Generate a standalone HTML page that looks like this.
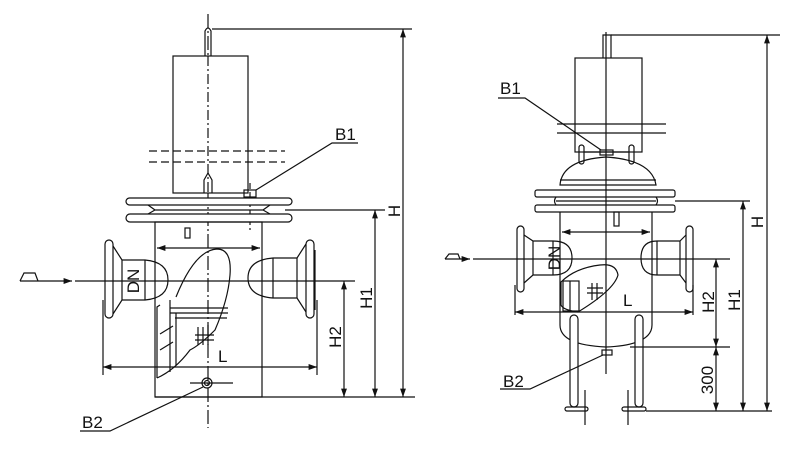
<!DOCTYPE html>
<html><head><meta charset="utf-8"><style>
html,body{margin:0;padding:0;background:#fff;}
svg{display:block;}
text{font-family:"Liberation Sans",Arial,sans-serif;fill:#111;}
</style></head><body>
<svg width="802" height="453" viewBox="0 0 802 453" xmlns="http://www.w3.org/2000/svg">
<defs>
<marker id="a" viewBox="0 0 10 10" refX="10" refY="5" markerWidth="7" markerHeight="7" orient="auto-start-reverse"><path d="M0,1.5 L10,5 L0,8.5z" fill="#111"/></marker>
</defs>
<g stroke="#111" stroke-width="1.2" fill="none">
<!-- ============ LEFT FIGURE ============ -->
<line x1="208" y1="14" x2="208" y2="428" stroke-dasharray="14,3,2,3"/>
<path d="M205,57 V31 Q208,25 211,31 V57"/>
<rect x="173" y="56" width="75" height="137" fill="#fff"/>
<line x1="208" y1="56" x2="208" y2="193" stroke-dasharray="10,3,2,3"/>
<line x1="149" y1="151" x2="285" y2="151" stroke-dasharray="8,4"/>
<line x1="149" y1="162" x2="285" y2="162" stroke-dasharray="8,4"/>
<path d="M204,193 V180 L208,173 L212,180 V193"/>
<rect x="244" y="190" width="12" height="7"/>
<line x1="250" y1="183" x2="250" y2="230" stroke-dasharray="6,3"/>
<path d="M256,190 L332,143 H358"/>
<rect x="126" y="198" width="166" height="7" rx="3.5" fill="#fff"/>
<rect x="126" y="214" width="166" height="8" rx="4" fill="#fff"/>
<path d="M148,205 L155,210 L148,214 M270,205 L263,210 L270,214 M155,210 H263"/>
<rect x="155" y="222" width="107" height="175"/>
<rect x="185" y="228" width="5" height="10"/>
<line x1="157" y1="248" x2="260" y2="248" marker-start="url(#a)" marker-end="url(#a)"/>
<!-- left pipe -->
<rect x="105" y="240" width="8" height="78" rx="4" fill="#fff"/>
<path d="M113,246 L122,260 H145 Q168,262 168,280 Q168,298 145,300 H122 L113,314"/>
<line x1="122" y1="260" x2="122" y2="300"/>
<line x1="145" y1="260" x2="145" y2="300"/>
<!-- right pipe -->
<path d="M273,258 Q248,260 248,278 Q248,296 273,298 H297 L306,312 M297,258 L306,244 M273,258 H297"/>
<line x1="273" y1="258" x2="273" y2="298"/>
<line x1="297" y1="258" x2="297" y2="298"/>
<rect x="306" y="240" width="8" height="78" rx="4" fill="#fff"/>
<line x1="315" y1="250" x2="315" y2="310"/>
<!-- cutaway -->
<path d="M176,297 Q195,250 217,249 Q232,249 230,275 Q228,300 215,330 Q200,345 190,350 Q175,370 157,378" />
<path d="M170,308 H228 M170,313 H228 M175,318 H227"/>
<line x1="176" y1="313" x2="176" y2="365"/>
<line x1="170" y1="300" x2="170" y2="372"/>
<path d="M157,378 V307 L160,305"/>
<line x1="160" y1="334" x2="173" y2="326"/>
<line x1="160" y1="350" x2="173" y2="342"/>
<path d="M195,335 H214 M195,340 H214 M198,327 V345 M203,327 V345 M208,325 V345"/>
<circle cx="207" cy="383" r="5"/><circle cx="207" cy="383" r="2.5"/>
<line x1="190" y1="383" x2="233" y2="383"/>
<path d="M203,387 L110,431 H80"/>
<line x1="75" y1="281" x2="355" y2="281"/>
<line x1="20" y1="281" x2="72" y2="281" marker-end="url(#a)"/>
<path d="M20,281 L24,273 H35 L38,281"/>
<line x1="103" y1="300" x2="103" y2="375"/>
<line x1="317" y1="300" x2="317" y2="375"/>
<line x1="103" y1="367" x2="317" y2="367" marker-start="url(#a)" marker-end="url(#a)"/>
<line x1="155" y1="397" x2="415" y2="397"/>
<line x1="212" y1="29" x2="412" y2="29"/>
<line x1="403" y1="29" x2="403" y2="397" marker-start="url(#a)" marker-end="url(#a)"/>
<line x1="285" y1="210" x2="385" y2="210"/>
<line x1="375" y1="210" x2="375" y2="397" marker-start="url(#a)" marker-end="url(#a)"/>
<line x1="344" y1="281" x2="344" y2="397" marker-start="url(#a)" marker-end="url(#a)"/>

<!-- ============ RIGHT FIGURE ============ -->
<path d="M603,58 V35 H611 V58"/>
<line x1="611" y1="35" x2="780" y2="35"/>
<rect x="575" y="58" width="67" height="94" fill="none"/>
<line x1="606" y1="32" x2="606" y2="374"/>
<line x1="557" y1="124" x2="666" y2="124"/>
<line x1="557" y1="133" x2="666" y2="133"/>
<rect x="579" y="145" width="5" height="19" rx="2.5"/>
<rect x="629" y="145" width="5" height="19" rx="2.5"/>
<path d="M584,152 H629"/>
<rect x="600" y="150" width="13" height="5"/>
<path d="M601,150 L525,98 H498"/>
<path d="M560,185 Q562,160 606,157 Q652,160 656,185 Z"/>
<line x1="560" y1="180" x2="656" y2="180"/>
<rect x="535" y="190" width="140" height="7" rx="2"/>
<rect x="535" y="205" width="140" height="7" rx="2"/>
<path d="M556,197 Q553,201 556,205 M656,197 Q659,201 656,205 M556,201 H656"/>
<path d="M560,212 V325 Q560,345 606,347 Q652,345 652,325 V212"/>
<rect x="614" y="212" width="5" height="14"/>
<line x1="562" y1="232" x2="650" y2="232" marker-start="url(#a)" marker-end="url(#a)"/>
<rect x="517" y="226" width="7" height="66" rx="3.5" fill="#fff"/>
<path d="M524,235 L533,241 H553 Q572,241 572,258 Q572,275 553,275 H533 L524,283"/>
<line x1="533" y1="241" x2="533" y2="275"/>
<line x1="553" y1="241" x2="553" y2="275"/>
<path d="M657,241 Q641,241 641,258 Q641,275 657,275 H680 L686,283 M680,241 L686,235 M657,241 H680"/>
<line x1="657" y1="241" x2="657" y2="275"/>
<line x1="680" y1="241" x2="680" y2="275"/>
<rect x="686" y="226" width="7" height="66" rx="3.5" fill="#fff"/>
<path d="M561,282 Q575,268 600,265 Q616,263 618,275 Q614,290 578,312 Q563,310 561,305 Z"/>
<rect x="563" y="281" width="16" height="30"/>
<line x1="570" y1="281" x2="570" y2="311"/>
<path d="M587,288 H603 M587,293 H603 M592,283 V300 M597,283 V300"/>
<rect x="570" y="315" width="8" height="92" rx="4" fill="#fff"/>
<rect x="635" y="315" width="8" height="92" rx="4" fill="#fff"/>
<rect x="565" y="407" width="23" height="4" rx="2"/>
<rect x="622" y="407" width="24" height="4" rx="2"/>
<line x1="585" y1="390" x2="585" y2="425"/>
<line x1="628" y1="390" x2="628" y2="425"/>
<rect x="602" y="350" width="10" height="5"/>
<path d="M603,355 L530,389 H500"/>
<line x1="473" y1="259" x2="730" y2="259"/>
<line x1="445" y1="259" x2="470" y2="259" marker-end="url(#a)"/>
<path d="M445,259 L449,254 H458 L460,259"/>
<line x1="515" y1="285" x2="515" y2="315"/>
<line x1="693" y1="285" x2="693" y2="315"/>
<line x1="515" y1="312" x2="693" y2="312" marker-start="url(#a)" marker-end="url(#a)"/>
<line x1="630" y1="347" x2="730" y2="347"/>
<line x1="716" y1="259" x2="716" y2="347" marker-start="url(#a)" marker-end="url(#a)"/>
<line x1="716" y1="347" x2="716" y2="411" marker-start="url(#a)" marker-end="url(#a)"/>
<line x1="646" y1="411" x2="772" y2="411"/>
<line x1="675" y1="201" x2="750" y2="201"/>
<line x1="743" y1="201" x2="743" y2="411" marker-start="url(#a)" marker-end="url(#a)"/>
<line x1="767" y1="35" x2="767" y2="411" marker-start="url(#a)" marker-end="url(#a)"/>
</g>
<g font-size="17">
<text x="335" y="140">B1</text>
<text x="82" y="428">B2</text>
<text x="218" y="362">L</text>
<text transform="translate(139,281) rotate(-90)" text-anchor="middle">DN</text>
<text transform="translate(400,211) rotate(-90)" text-anchor="middle">H</text>
<text transform="translate(372,298) rotate(-90)" text-anchor="middle">H1</text>
<text transform="translate(341,337) rotate(-90)" text-anchor="middle">H2</text>
<text x="500" y="94">B1</text>
<text x="503" y="387">B2</text>
<text x="623" y="306">L</text>
<text transform="translate(560,258) rotate(-90)" text-anchor="middle">DN</text>
<text transform="translate(763,222) rotate(-90)" text-anchor="middle">H</text>
<text transform="translate(740,300) rotate(-90)" text-anchor="middle">H1</text>
<text transform="translate(714,302) rotate(-90)" text-anchor="middle">H2</text>
<text transform="translate(713,380) rotate(-90)" text-anchor="middle">300</text>
</g>
</svg>
</body></html>
